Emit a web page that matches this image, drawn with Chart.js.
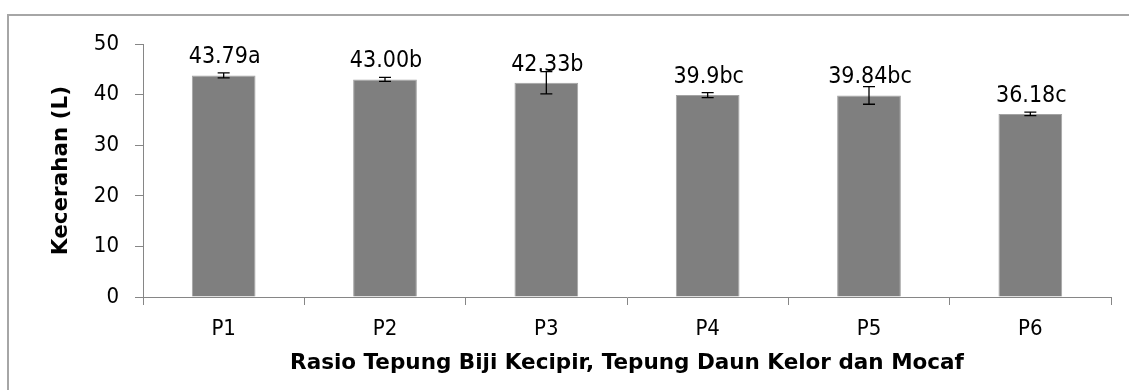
<!DOCTYPE html>
<html>
<head>
<meta charset="utf-8">
<script src="https://cdn.jsdelivr.net/npm/chart.js@4/dist/chart.umd.min.js"></script>
<style>
	html, body { margin: 0; padding: 0; background: #fff; overflow: hidden; }
	#wrap { position: relative; width: 1129px; height: 390px; }
	#frame {
		position: absolute; left: 7px; top: 14px; right: -4px; bottom: -4px;
		border-left: 2px solid #a6a6a6; border-top: 2px solid #a6a6a6;
	}
	canvas { position: absolute; left: 0; top: 0; }
</style>
</head>
<body>
<div id="wrap">
	<div id="frame"></div>
	<canvas id="brightnessChart" width="1129" height="390"></canvas>
</div>
<script>
// Data
const treatments = ['P1', 'P2', 'P3', 'P4', 'P5', 'P6'];
const meanText   = ['43.79', '43.00', '42.33', '39.9', '39.84', '36.18'];
const notation   = ['a', 'b', 'b', 'bc', 'bc', 'c'];
const stdDev     = [0.5, 0.4, 2.2, 0.5, 1.75, 0.35];
const yTicks     = [0, 10, 20, 30, 40, 50];

const means = meanText.map(Number);

const FONT = '"DejaVu Sans Condensed", "DejaVu Sans"';
const TITLE_FONT = 'DejaVu Sans';
const AXIS_GRAY = '#868686';

// Error bars + value labels on top of each bar
const barExtras = {
	id: 'barExtras',
	afterDatasetsDraw(chart) {
		const ctx = chart.ctx;
		const y = chart.scales.y;
		const meta = chart.getDatasetMeta(0);

		ctx.save();
		meta.data.forEach((bar, i) => {
			const hi = y.getPixelForValue(means[i] + stdDev[i]);
			const lo = y.getPixelForValue(means[i] - stdDev[i]);
			const cap = 6;

			ctx.strokeStyle = '#000';
			ctx.lineWidth = 1.3;
			ctx.beginPath();
			ctx.moveTo(bar.x, hi); ctx.lineTo(bar.x, lo);
			ctx.moveTo(bar.x - cap, hi); ctx.lineTo(bar.x + cap, hi);
			ctx.moveTo(bar.x - cap, lo); ctx.lineTo(bar.x + cap, lo);
			ctx.stroke();

			ctx.fillStyle = '#000';
			ctx.font = `23px ${FONT}`;
			ctx.textAlign = 'center';
			ctx.textBaseline = 'alphabetic';
			ctx.fillText(meanText[i] + notation[i], bar.x + 1, bar.y - 12);
		});
		ctx.restore();
	}
};

new Chart(document.getElementById('brightnessChart'), {
	type: 'bar',
	data: {
		labels: treatments,
		datasets: [{
			data: means,
			backgroundColor: '#7f7f7f',
			borderColor: '#a3a3a3',
			borderWidth: 1,
			categoryPercentage: 1,
			barPercentage: 0.395,
		}]
	},
	options: {
		responsive: false,
		animation: false,
		events: [],
		layout: { padding: { top: 44, right: 18, left: 0, bottom: 0 } },
		plugins: {
			legend: { display: false },
			tooltip: { enabled: false },
		},
		scales: {
			x: {
				afterFit: s => { s.height = 93; },
				grid: { drawOnChartArea: false, tickLength: 8, color: AXIS_GRAY, offset: true },
				border: { color: AXIS_GRAY, width: 1 },
				ticks: { color: '#000', font: { family: FONT, size: 22 }, padding: 11 },
				title: {
					display: true,
					text: 'Rasio Tepung Biji Kecipir, Tepung Daun Kelor dan Mocaf',
					color: '#000',
					font: { family: TITLE_FONT, size: 21.5, weight: 'bold' },
					padding: { top: 0, bottom: 14 },
				},
			},
			y: {
				min: yTicks[0],
				max: yTicks[yTicks.length - 1],
				afterFit: s => { s.width = 143; },
				afterBuildTicks: s => { s.ticks = yTicks.map(v => ({ value: v })); },
				grid: { drawOnChartArea: false, tickLength: 8, color: AXIS_GRAY },
				border: { color: AXIS_GRAY, width: 1 },
				ticks: { color: '#000', font: { family: FONT, size: 22 }, padding: 16 },
				title: {
					display: true,
					text: 'Kecerahan (L)',
					color: '#000',
					font: { family: TITLE_FONT, size: 21.5, weight: 'bold' },
					padding: { top: 49, bottom: 0 },
				},
			}
		}
	},
	plugins: [barExtras]
});
</script>
</body>
</html>
